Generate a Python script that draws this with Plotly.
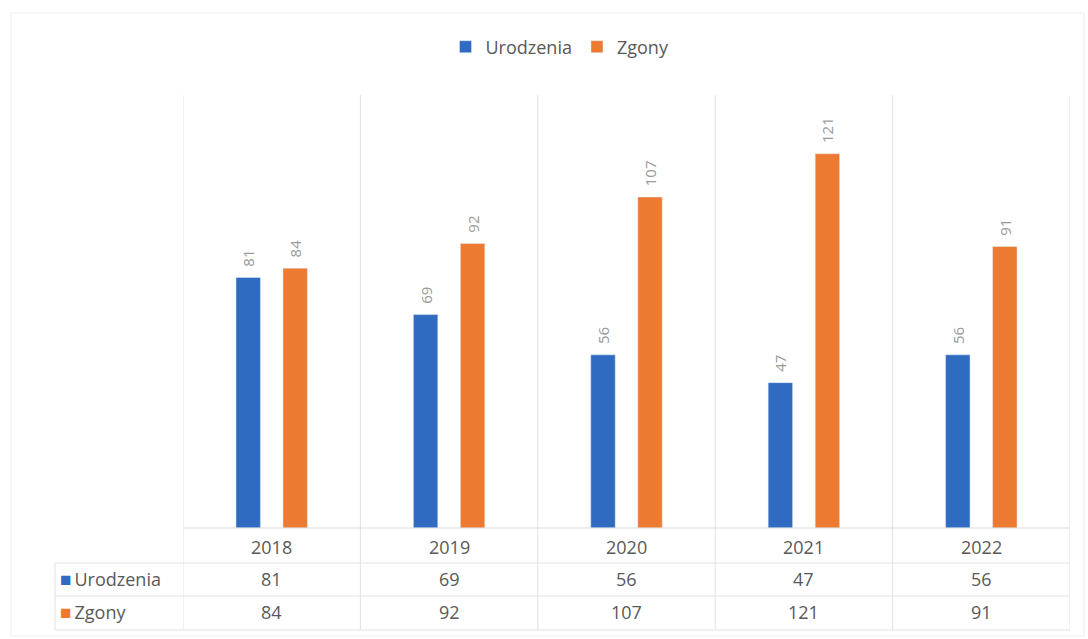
import plotly.graph_objects as go

years = ["2018", "2019", "2020", "2021", "2022"]
urodzenia = [81, 69, 56, 47, 56]
zgony = [84, 92, 107, 121, 91]
series_names = ["Urodzenia", "Zgony"]
colors = ["#2F6BC1", "#EC7A30"]

W, H = 1088, 639
L, R, T, B = 183, 1070, 95, 528
plot_h = B - T

def py(pix):
    return (B - pix) / plot_h

def px(pix):
    return (pix - L) / (R - L)

xs = list(range(len(years)))
FONT = "Open Sans"
GRID = "#E2E2E2"
TXT = "#595959"
FS = 18

fig = go.Figure()
for name, vals, col in zip(series_names, [urodzenia, zgony], colors):
    fig.add_trace(go.Bar(
        x=xs, y=vals, name=name, marker_color=col,
        text=["\u00a0\u00a0" + str(v) for v in vals], textposition="outside", textangle=-90,
        textfont=dict(color="#9a9a9a", size=15, family=FONT),
        constraintext="none", cliponaxis=False, hoverinfo="skip",
    ))

shapes = []
for i in range(len(years) + 1):
    xb = i - 0.5
    shapes.append(dict(type="line", xref="x", yref="paper", x0=xb, x1=xb,
                       y0=py(630), y1=1, line=dict(color=GRID, width=1)))
shapes.append(dict(type="line", xref="paper", yref="paper",
                   x0=px(55), x1=px(55), y0=py(630), y1=py(563),
                   line=dict(color=GRID, width=1)))
shapes.append(dict(type="line", xref="x", yref="paper", x0=-0.5, x1=4.5,
                   y0=0, y1=0, line=dict(color="#D9D9D9", width=1)))
for yy in [563, 596, 630]:
    shapes.append(dict(type="line", xref="paper", yref="paper",
                       x0=px(55), x1=1, y0=py(yy), y1=py(yy),
                       line=dict(color=GRID, width=1)))
shapes.append(dict(type="rect", xref="paper", yref="paper",
                   x0=px(11), x1=px(1084), y0=py(636), y1=py(13),
                   line=dict(color="#EDEDED", width=1)))

annotations = []
def cell(x, ypix, text, xref="x", xanchor="center"):
    annotations.append(dict(x=x, y=py(ypix), xref=xref, yref="paper", text=text,
                            xanchor=xanchor, yanchor="middle", showarrow=False,
                            font=dict(size=FS, color=TXT, family=FONT)))

for i, yr in enumerate(years):
    cell(i, 547, yr)
    cell(i, 579, str(urodzenia[i]))
    cell(i, 612, str(zgony[i]))
for name, col, yy in zip(series_names, colors, [579, 612]):
    cell(px(58), yy, f"<span style='color:{col};font-size:19px'>■</span>\u2009{name}",
         xref="paper", xanchor="left")

fig.update_layout(
    width=W, height=H,
    margin=dict(l=L, r=W - R, t=T, b=H - B),
    paper_bgcolor="white", plot_bgcolor="white",
    barmode="group", bargap=0.47, bargroupgap=0.48,
    showlegend=True,
    legend=dict(orientation="h", xref="container", yref="container",
                x=560 / W, y=1 - 47 / H, xanchor="center", yanchor="middle",
                font=dict(size=FS, color=TXT, family=FONT),
                itemwidth=30, tracegroupgap=0),
    xaxis=dict(range=[-0.5, 4.5], showticklabels=False, showgrid=False,
               zeroline=False, showline=False, ticks=""),
    yaxis=dict(range=[0, 140], visible=False),
    shapes=shapes, annotations=annotations,
    font=dict(family=FONT),
    hovermode=False,
)

fig.write_html("out.html", config={"displayModeBar": False},
               post_script="document.body.style.margin='0';")
